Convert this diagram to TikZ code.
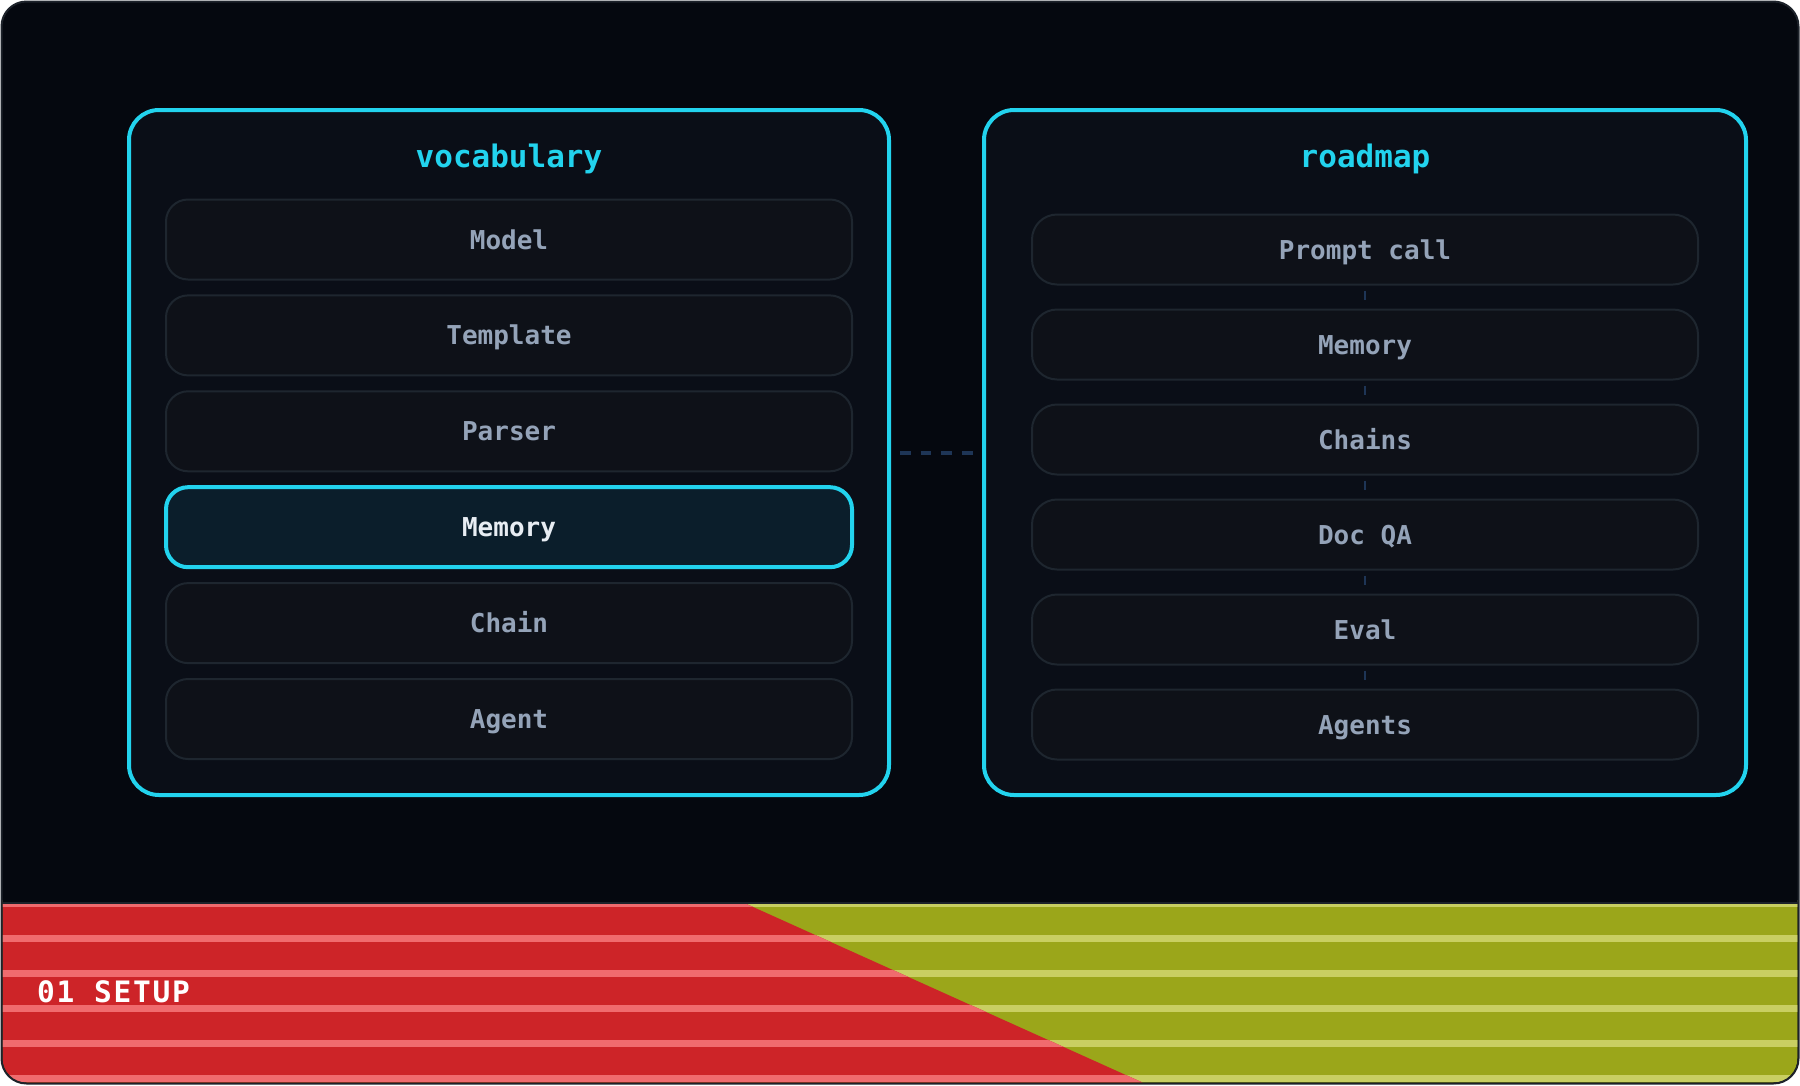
\documentclass[tikz,border=0pt]{standalone}
\usepackage{fontspec}
\newfontfamily\dvmono{DejaVu Sans Mono}
\newfontfamily\dvmonosp{DejaVu Sans Mono}[LetterSpace=6]
\definecolor{bgc}{HTML}{05080F}
\definecolor{framec}{HTML}{1D222A}
\definecolor{panelbg}{HTML}{0A0E17}
\definecolor{cyanc}{HTML}{22D3EE}
\definecolor{rowbg}{HTML}{0E1118}
\definecolor{rowline}{HTML}{1E262F}
\definecolor{rowtext}{HTML}{94A3B8}
\definecolor{hlbg}{HTML}{0B1E2B}
\definecolor{hltext}{HTML}{E8EDF3}
\definecolor{connc}{HTML}{1E3556}
\definecolor{redc}{HTML}{CD2428}
\definecolor{pinkc}{HTML}{F06B6E}
\definecolor{olivec}{HTML}{9BA61A}
\definecolor{liteolive}{HTML}{C9CF62}
\begin{document}
\begin{tikzpicture}[x=1pt,y=-1pt,
  panel/.style={draw=cyanc, line width=4pt, fill=panelbg, rounded corners=30pt, inner sep=0pt},
  ttl/.style={text=cyanc, font=\dvmono\bfseries\fontsize{31}{31}\selectfont, text height=22.6pt, text depth=0pt, inner sep=0pt},
  rowbox/.style={draw=rowline, line width=2pt, fill=rowbg, text=rowtext,
    font=\dvmono\bfseries\fontsize{26}{26}\selectfont, text height=19pt, text depth=0pt, inner sep=0pt},
  rowl/.style={rowbox, rounded corners=22pt, minimum width=686pt, minimum height=80pt},
  rowr/.style={rowbox, rounded corners=25pt, minimum width=666pt, minimum height=70pt},
  hl/.style={draw=cyanc, line width=4pt, fill=hlbg, text=hltext},
  hconn/.style={draw=connc, line width=4pt, dash pattern=on 10.7pt off 10pt, shorten <=9pt, shorten >=8pt},
  vconn/.style={draw=connc, line width=2.7pt, shorten <=5pt, shorten >=9pt},
  bandtxt/.style={text=white, font=\dvmonosp\bfseries\fontsize{29.5}{30}\selectfont, text height=21.5pt, text depth=0pt, inner sep=0pt}
]
\useasboundingbox (0,0) rectangle (1800,1085);
% outer frame background
\fill[bgc, rounded corners=25pt] (1.5,1.5) rectangle (1798.5,1083.5);
% bottom band
\begin{scope}
  \clip[rounded corners=24pt] (2.5,2.5) rectangle (1797.5,1082.5);
  \fill[olivec] (0,904) rectangle (1800,1085);
  \foreach \y in {903.5,938.5,973.5,1008.5,1043.5,1078.5}
    \fill[liteolive] (0,\y-3.75) rectangle (1800,\y+3.75);
  \begin{scope}
    \clip (0,904) -- (746.5,904) -- (1148,1085) -- (0,1085) -- cycle;
    \fill[redc] (0,904) rectangle (1800,1085);
    \foreach \y in {903.5,938.5,973.5,1008.5,1043.5,1078.5}
      \fill[pinkc] (0,\y-3.75) rectangle (1800,\y+3.75);
  \end{scope}
  \fill[bgc] (0,890) rectangle (1800,904);
  \draw[framec, line width=2pt] (0,903) -- (1800,903);
\end{scope}
\draw[framec, line width=2pt, rounded corners=25pt] (1.5,1.5) rectangle (1798.5,1083.5);
\node[bandtxt, anchor=west] (setup) at (37,992) {01 SETUP};

% panels
\node[panel, minimum width=760pt, minimum height=685pt] (vocab) at (509,452.5) {};
\node[panel, minimum width=762pt, minimum height=685pt] (road) at (1365,452.5) {};
\node[ttl] (vtitle) at (509,156) {vocabulary};
\node[ttl] (rtitle) at (1365,156) {roadmap};

% vocabulary rows
\node[rowl] (v1) at (509,239.5) {Model};
\node[rowl] (v2) at (509,335.4) {Template};
\node[rowl] (v3) at (509,431.3) {Parser};
\node[rowl, hl] (v4) at (509,527.2) {Memory};
\node[rowl] (v5) at (509,623.1) {Chain};
\node[rowl] (v6) at (509,719) {Agent};

% roadmap rows
\node[rowr] (r1) at (1365,249.5) {Prompt call};
\node[rowr] (r2) at (1365,344.5) {Memory};
\node[rowr] (r3) at (1365,439.5) {Chains};
\node[rowr] (r4) at (1365,534.5) {Doc QA};
\node[rowr] (r5) at (1365,629.5) {Eval};
\node[rowr] (r6) at (1365,724.5) {Agents};

% connectors
\draw[hconn] (vocab.east) -- (road.west);
\draw[vconn] (r1.south) -- (r2.north);
\draw[vconn] (r2.south) -- (r3.north);
\draw[vconn] (r3.south) -- (r4.north);
\draw[vconn] (r4.south) -- (r5.north);
\draw[vconn] (r5.south) -- (r6.north);
\end{tikzpicture}
\end{document}
